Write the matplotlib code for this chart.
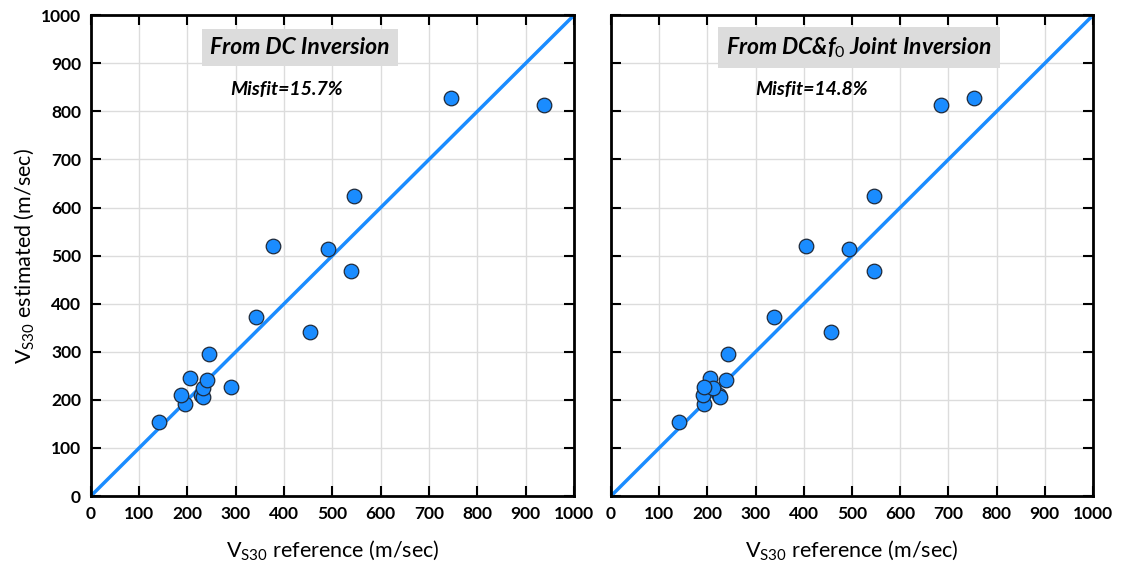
import matplotlib
matplotlib.use("Agg")
import matplotlib.pyplot as plt

plt.rcParams['font.family'] = ['Lato', 'DejaVu Sans']
plt.rcParams['mathtext.fontset'] = 'custom'
plt.rcParams['mathtext.rm'] = 'Lato'
plt.rcParams['mathtext.it'] = 'Lato:italic:bold'
plt.rcParams['mathtext.bf'] = 'Lato:bold'

# Vs30 estimated values (shared by both panels)
vs_est = [154, 191, 210, 210, 206, 245, 225, 241, 295, 227,
          372, 520, 341, 514, 468, 624, 827, 813]
# Vs30 reference values, DC inversion panel
vs_ref_dc = [141, 195, 186, 228, 232, 205, 232, 240, 244, 290,
             342, 377, 453, 491, 538, 545, 745, 938]
# Vs30 reference values, joint inversion panel
vs_ref_joint = [141, 193, 191, 224, 226, 205, 212, 239, 243, 193,
                338, 405, 456, 494, 546, 546, 753, 685]

titles = ['From DC Inversion', r'From DC&$f_0$ Joint Inversion']
misfits = ['Misfit=15.7%', 'Misfit=14.8%']
ticks = list(range(0, 1001, 100))

fig = plt.figure(figsize=(11.21, 5.65), dpi=100)
ax1 = fig.add_axes([0.081, 0.122, 0.431, 0.851])
ax2 = fig.add_axes([0.545, 0.122, 0.430, 0.851])

blue = '#1a8cff'
for ax, xs, title, mis, tx, mx in zip([ax1, ax2], [vs_ref_dc, vs_ref_joint], titles, misfits,
                                      [433, 514], [406, 417]):
    ax.set_xlim(0, 1000)
    ax.set_ylim(0, 1000)
    ax.grid(True, color='#dcdcdc', linewidth=1)
    ax.set_axisbelow(True)
    ax.plot([0, 1000], [0, 1000], color=blue, linewidth=2.5, zorder=2)
    ax.scatter(xs, vs_est, s=110, color=blue, edgecolors='#1f2a3a', linewidths=0.9, zorder=3)
    ax.set_xticks(ticks)
    ax.set_yticks(ticks)
    ax.tick_params(direction='in', length=7, width=1.5, top=True, right=True, labelsize=12.5, pad=7)
    for lab in ax.get_xticklabels() + ax.get_yticklabels():
        lab.set_fontweight('bold')
    for sp in ax.spines.values():
        sp.set_linewidth(2)
    ax.set_xlabel(r'V$_{\mathrm{S30}}$ reference (m/sec)', fontsize=15.5, labelpad=12)
    ax.text(tx, 933, title, fontsize=16.5, fontweight='bold', fontstyle='italic',
            ha='center', va='center', zorder=4,
            bbox=dict(facecolor='#dcdcdc', edgecolor='none', pad=6))
    ax.text(mx, 845, mis, fontsize=14, fontweight='bold', fontstyle='italic',
            ha='center', va='center', zorder=4)

ax1.set_ylabel(r'V$_{\mathrm{S30}}$ estimated (m/sec)', fontsize=15.5, labelpad=3)
ax2.tick_params(labelleft=False)

fig.savefig('out.png', dpi=100)
